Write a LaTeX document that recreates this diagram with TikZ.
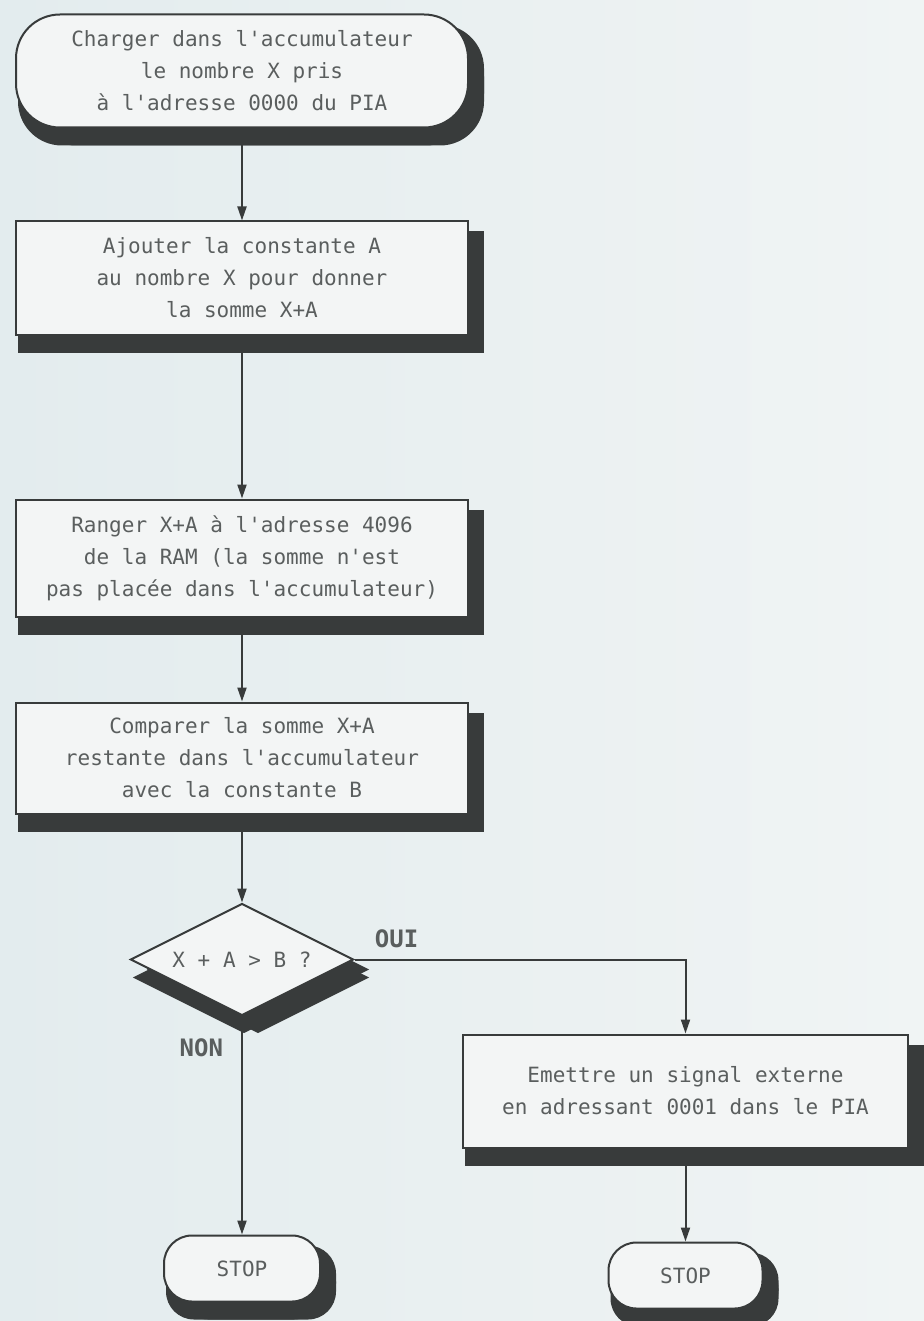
\documentclass[tikz,border=0pt]{standalone}
\usepackage{fontspec}
\usepackage{tikz}
\usetikzlibrary{positioning,arrows.meta,shapes.geometric,shadows}
\newfontfamily\plotfont{DejaVu Sans Mono}
\definecolor{paperL}{HTML}{E3ECEE}
\definecolor{paperR}{HTML}{F0F4F4}
\definecolor{boxfill}{HTML}{F3F5F5}
\definecolor{ink}{HTML}{383B3B}
\definecolor{txt}{HTML}{5A5E5E}

\begin{document}
\begin{tikzpicture}[x=0.5pt, y=-0.5pt,
  node distance=46pt,
  solid3d/.style={drop shadow={shadow xshift=1pt, shadow yshift=-9pt, fill=ink, opacity=1},
                  drop shadow={shadow xshift=8pt, shadow yshift=-9pt, fill=ink, opacity=1},
                  drop shadow={shadow xshift=8pt, shadow yshift=-5pt, fill=ink, opacity=1}},
  stepbox/.style={draw=ink, line width=1pt, fill=boxfill, solid3d, align=center,
                  minimum width=226pt, minimum height=56.5pt, inner sep=2pt,
                  font=\plotfont\fontsize{10.5}{16}\selectfont, text=txt},
  termin/.style={stepbox, rounded corners=22pt},
  stopbox/.style={termin, minimum width=78pt, minimum height=33pt, rounded corners=14pt},
  test/.style={stepbox, diamond, aspect=2, minimum width=111.5pt, minimum height=56pt, inner sep=1pt},
  lbl/.style={font=\plotfont\bfseries\fontsize{12}{14}\selectfont, text=txt, inner sep=0pt},
  arr/.style={-{Triangle[length=7pt,width=4.5pt]}, draw=ink, line width=1pt}]
  \path[use as bounding box, left color=paperL, right color=paperR] (0,0) rectangle (924,1321);
  % left column
  \node[termin] (load) at (242,71) {Charger dans l'accumulateur\\le nombre X pris\\à l'adresse 0000 du PIA};
  \node[stepbox, below=46pt of load] (add) {Ajouter la constante A\\au nombre X pour donner\\la somme X+A};
  \node[stepbox, below=81.5pt of add, minimum height=58.5pt] (store)
       {Ranger X+A à l'adresse 4096\\de la RAM (la somme n'est\\pas placée dans l'accumulateur)};
  \node[stepbox, below=42pt of store, minimum height=55.5pt] (cmp)
       {Comparer la somme X+A\\restante dans l'accumulateur\\avec la constante B};
  \node[test, below=44pt of cmp] (cond) {X + A > B ?};
  \node[stopbox, below=109pt of cond] (stopN) {STOP};
  % right branch
  \node[stepbox, minimum width=222.5pt] (emit) at (685.5,1091)
       {Emettre un signal externe\\en adressant 0001 dans le PIA};
  \node[stopbox, below=46.5pt of emit, minimum width=77pt] (stopO) {STOP};
  \draw[arr] (load) -- (add);
  \draw[arr] (add) -- (store);
  \draw[arr] (store) -- (cmp);
  \draw[arr] (cmp) -- (cond);
  \draw[arr] (cond) -- node[lbl, pos=0.145, left=9pt] {NON} (stopN);
  \draw[arr] (cond.east) -| (emit.north);
  \node[lbl, above right=5.5pt and 10pt of cond.east] (oui) {OUI};
  \draw[arr] (emit) -- (stopO);
\end{tikzpicture}
\end{document}
